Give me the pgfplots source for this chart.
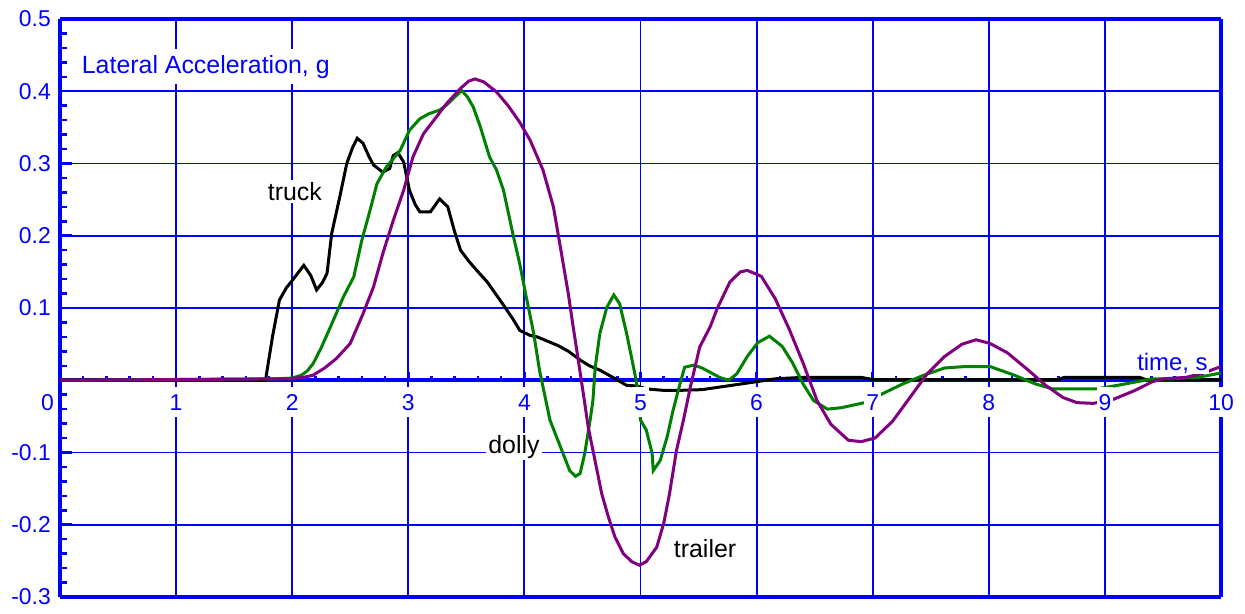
\documentclass[border=0pt]{standalone}
\usepackage{pgfplots}
\pgfplotsset{compat=1.18}
\usepackage{fontspec}
\setmainfont{Liberation Sans}
\definecolor{axblue}{RGB}{0,0,255}
\definecolor{dgreen}{RGB}{0,128,0}
\definecolor{dpurple}{RGB}{128,0,128}
\pgfplotsset{
  layers/mylayers/.define layer set={axis background,axis grid,axis ticks,axis lines,pre main,main,axis tick labels,axis descriptions,axis foreground}{},
}
\pgfplotstableread{
t g
0 0
1.77 0
1.83 0.06
1.89 0.111
1.95 0.128
2.0 0.138
2.10 0.159
2.16 0.145
2.21 0.125
2.26 0.135
2.30 0.148
2.34 0.203
2.41 0.254
2.47 0.300
2.52 0.322
2.56 0.335
2.61 0.328
2.66 0.310
2.70 0.298
2.78 0.288
2.84 0.293
2.87 0.311
2.91 0.315
2.96 0.302
3.01 0.263
3.06 0.243
3.10 0.233
3.19 0.233
3.27 0.251
3.34 0.240
3.40 0.205
3.45 0.180
3.52 0.165
3.59 0.152
3.68 0.136
3.75 0.120
3.82 0.104
3.90 0.085
3.96 0.069
4.05 0.062
4.11 0.060
4.20 0.054
4.29 0.048
4.38 0.040
4.48 0.028
4.56 0.020
4.65 0.014
4.75 0.005
4.88 -0.007
4.97 -0.008
5.05 -0.012
5.20 -0.014
5.34 -0.014
5.53 -0.013
5.70 -0.009
5.83 -0.006
6.0 -0.002
6.16 0.002
6.40 0.004
6.90 0.004
7.0 0.001
8.6 0.001
8.65 0.004
9.3 0.004
9.35 0.001
10 0.001
}\truck
\pgfplotstableread{
t g
0 0
1.87 0.002
2.0 0.003
2.08 0.007
2.13 0.013
2.18 0.023
2.25 0.045
2.33 0.074
2.44 0.115
2.53 0.143
2.60 0.194
2.67 0.235
2.73 0.272
2.81 0.295
2.93 0.318
3.01 0.346
3.10 0.362
3.18 0.369
3.27 0.374
3.33 0.381
3.40 0.392
3.46 0.401
3.51 0.392
3.56 0.378
3.62 0.351
3.70 0.309
3.76 0.291
3.82 0.263
3.90 0.203
3.96 0.161
4.01 0.120
4.08 0.065
4.13 0.014
4.16 -0.009
4.22 -0.055
4.31 -0.092
4.39 -0.125
4.44 -0.133
4.48 -0.129
4.52 -0.101
4.57 -0.051
4.59 -0.028
4.61 0.018
4.65 0.065
4.71 0.101
4.77 0.118
4.82 0.106
4.88 0.065
4.94 0.018
4.97 -0.007
5.00 -0.055
5.05 -0.069
5.10 -0.101
5.11 -0.125
5.17 -0.111
5.23 -0.078
5.28 -0.042
5.34 -0.005
5.38 0.018
5.46 0.021
5.53 0.017
5.60 0.011
5.68 0.004
5.76 0.000
5.83 0.009
5.92 0.033
6.01 0.052
6.11 0.061
6.22 0.047
6.31 0.024
6.40 -0.005
6.49 -0.028
6.61 -0.040
6.73 -0.038
6.93 -0.031
7.08 -0.019
7.26 -0.005
7.44 0.007
7.62 0.017
7.80 0.019
8.01 0.019
8.22 0.007
8.40 -0.005
8.55 -0.012
8.93 -0.012
9.11 -0.007
9.41 0.002
9.56 0.002
9.80 0.004
10 0.010
}\dolly
\pgfplotstableread{
t g
0 0
1.98 0.002
2.10 0.004
2.18 0.007
2.28 0.017
2.38 0.030
2.50 0.051
2.61 0.092
2.70 0.129
2.78 0.175
2.87 0.221
2.96 0.263
3.04 0.309
3.13 0.341
3.24 0.364
3.33 0.383
3.45 0.404
3.52 0.414
3.575 0.417
3.65 0.413
3.76 0.399
3.86 0.380
3.96 0.357
4.05 0.332
4.16 0.291
4.25 0.240
4.31 0.184
4.378 0.120
4.42 0.074
4.464 0.028
4.507 -0.018
4.55 -0.065
4.608 -0.111
4.666 -0.157
4.723 -0.189
4.78 -0.217
4.852 -0.240
4.924 -0.251
4.99 -0.256
5.05 -0.251
5.14 -0.231
5.20 -0.198
5.25 -0.157
5.31 -0.097
5.37 -0.055
5.43 -0.009
5.51 0.046
5.60 0.074
5.66 0.099
5.77 0.136
5.86 0.150
5.92 0.152
6.04 0.144
6.16 0.113
6.28 0.071
6.40 0.024
6.52 -0.028
6.64 -0.061
6.79 -0.083
6.90 -0.085
7.02 -0.080
7.17 -0.057
7.32 -0.024
7.47 0.009
7.62 0.033
7.77 0.050
7.89 0.056
8.01 0.051
8.16 0.038
8.34 0.014
8.49 -0.007
8.64 -0.024
8.76 -0.031
8.90 -0.032
9.08 -0.026
9.26 -0.014
9.41 -0.002
9.50 0.002
9.70 0.004
9.85 0.010
10 0.019
}\trailer
\begin{document}
\begin{tikzpicture}
\begin{axis}[
  set layers=mylayers,
  scale only axis, width=1161bp, height=578bp,
  at={(0,0)}, anchor=south west,
  xmin=0, xmax=10, ymin=-0.3, ymax=0.5,
  axis x line=middle, axis y line=box,
  axis line style={axblue, line width=3.5bp, -},
  xtick={1,2,3,4,5,6,7,8,9,10},
  xticklabels={},
  minor xtick={0.2,0.4,0.6,0.8,1.2,1.4,1.6,1.8,2.2,2.4,2.6,2.8,3.2,3.4,3.6,3.8,4.2,4.4,4.6,4.8,5.2,5.4,5.6,5.8,6.2,6.4,6.6,6.8,7.2,7.4,7.6,7.8,8.2,8.4,8.6,8.8,9.2,9.4,9.6,9.8},
  ytick={-0.3,-0.2,-0.1,0,0.1,0.2,0.3,0.4,0.5},
  yticklabels={-0.3,-0.2,-0.1,,0.1,0.2,0.3,0.4,0.5},
  minor y tick num=4,
  ytick pos=left,
  tick align=inside,
  major tick length=12bp, minor tick length=7bp,
  tick style={axblue, line width=2.5bp},
  xtick style={/pgfplots/major tick length=8bp, /pgfplots/minor tick length=4bp},
  grid=major,
  major grid style={axblue, line width=1.9bp},
  extra y ticks={-0.3,0.5},
  extra y tick labels={},
  extra y tick style={grid=major, major grid style={axblue, line width=3.5bp}},
  tick label style={text=axblue, font=\fontsize{23}{27}\selectfont},
  yticklabel style={anchor=east, inner sep=0pt, xshift=-9bp},
  clip mode=individual,
]
\addplot[black, line width=3bp] table[x=t,y=g] {\truck};
\addplot[dgreen, line width=3bp] table[x=t,y=g] {\dolly};
\addplot[dpurple, line width=3bp] table[x=t,y=g] {\trailer};
\pgfplotsinvokeforeach{1,2,3,4,5,6,7,8,9,10}{
  \node[anchor=center, fill=white, inner xsep=2bp, inner ysep=7bp, text=axblue, font=\fontsize{23}{27}\selectfont, yshift=-22bp] at (axis cs:#1,0) {#1};
}
\node[anchor=base west, fill=white, inner xsep=3bp, inner ysep=6bp, text=axblue, font=\fontsize{25}{30}\selectfont] at (axis cs:0.161,0.425) {Lateral Acceleration, g};
\node[anchor=base, fill=white, inner sep=2bp, font=\fontsize{25}{30}\selectfont] at (axis cs:2.023,0.249) {truck};
\node[anchor=base, fill=white, inner sep=2bp, font=\fontsize{25}{30}\selectfont] at (axis cs:3.91,-0.101) {dolly};
\node[anchor=base, fill=white, inner sep=2bp, font=\fontsize{25}{30}\selectfont] at (axis cs:5.556,-0.245) {trailer};
\node[anchor=base, fill=white, inner xsep=1bp, inner ysep=1bp, text=axblue, font=\fontsize{24}{28}\selectfont] at (axis cs:9.582,0.0138) {time, s};
\node[anchor=center, text=axblue, font=\fontsize{23}{27}\selectfont, xshift=-12.5bp, yshift=-22.5bp] at (axis cs:0,0) {0};
\end{axis}
\path (-60bp,-17bp) rectangle (1185bp,597bp);
\end{tikzpicture}
\end{document}
